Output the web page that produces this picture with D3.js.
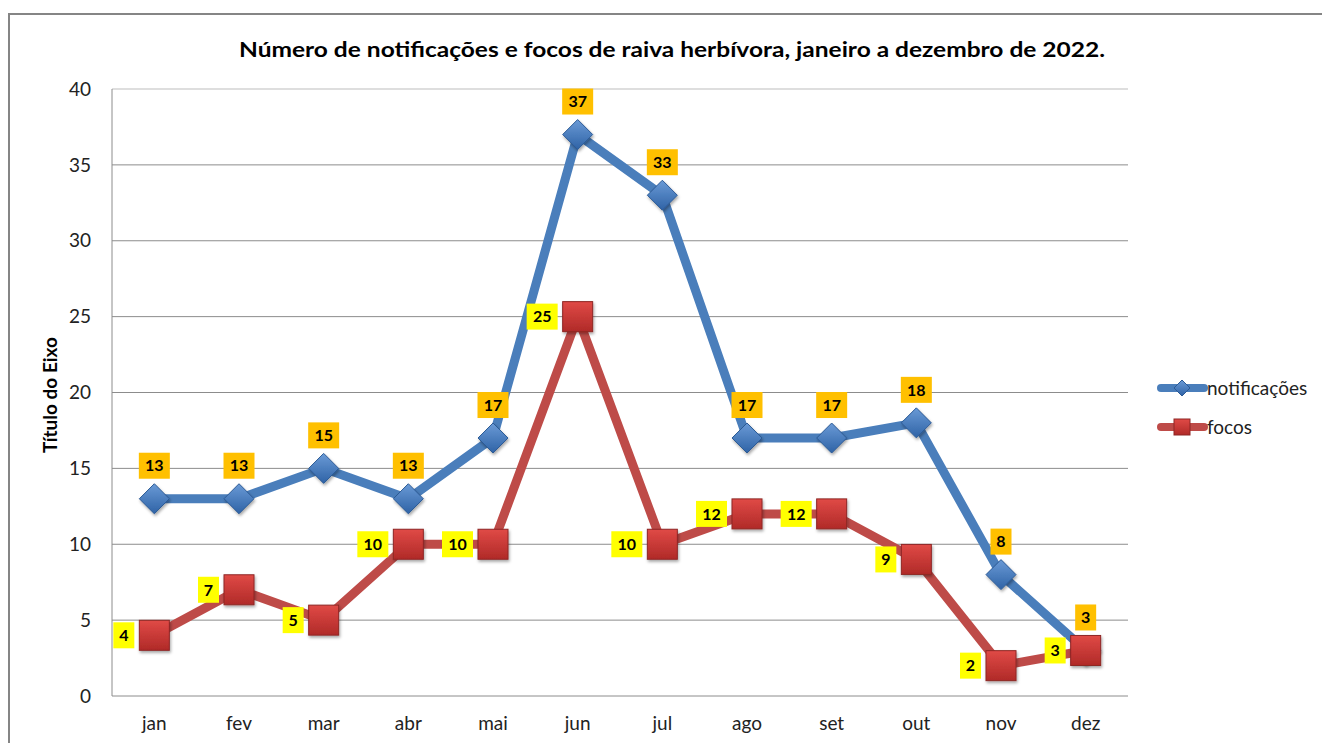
<!DOCTYPE html>
<html>
<head>
<meta charset="utf-8">
<script src="https://cdn.jsdelivr.net/npm/d3@7"></script>
<style>
  body { margin: 0; background: #fff; }
  text { font-family: Lato, "Open Sans", sans-serif; }
</style>
</head>
<body>
<svg id="chart"></svg>
<script>
const months = ["jan", "fev", "mar", "abr", "mai", "jun", "jul", "ago", "set", "out", "nov", "dez"];
const notificacoes = [13, 13, 15, 13, 17, 37, 33, 17, 17, 18, 8, 3];
const focos = [4, 7, 5, 10, 10, 25, 10, 12, 12, 9, 2, 3];
const yTicks = [0, 5, 10, 15, 20, 25, 30, 35, 40];

const width = 1322, height = 743;
const margin = { top: 89, left: 112, right: 194, bottom: 47 };

const svg = d3.select("#chart").attr("width", width).attr("height", height);
const defs = svg.append("defs");

// marker shading
const gBlue = defs.append("linearGradient").attr("id", "gBlue").attr("x1", 0).attr("y1", 0).attr("x2", 0).attr("y2", 1);
gBlue.append("stop").attr("offset", "0%").attr("stop-color", "#6a9ad6");
gBlue.append("stop").attr("offset", "100%").attr("stop-color", "#2f63a6");
const gRed = defs.append("linearGradient").attr("id", "gRed").attr("x1", 0).attr("y1", 0).attr("x2", 0).attr("y2", 1);
gRed.append("stop").attr("offset", "0%").attr("stop-color", "#e04a46");
gRed.append("stop").attr("offset", "100%").attr("stop-color", "#b02a28");
const shadow = defs.append("filter").attr("id", "shadow").attr("x", "-30%").attr("y", "-30%").attr("width", "160%").attr("height", "160%");
shadow.append("feDropShadow").attr("dx", 1).attr("dy", 2).attr("stdDeviation", 1.5).attr("flood-color", "#000").attr("flood-opacity", 0.35);

// outer frame
svg.append("path")
  .attr("d", `M9,${height} L9,14 L${width},14`)
  .attr("fill", "none").attr("stroke", "#858585").attr("stroke-width", 2);

const x = d3.scaleBand().domain(months).range([margin.left, width - margin.right]);
const y = d3.scaleLinear().domain([0, 40]).range([height - margin.bottom, margin.top]);

// gridlines
svg.append("g").selectAll("line").data(yTicks).join("line")
  .attr("x1", margin.left).attr("x2", width - margin.right)
  .attr("y1", d => y(d)).attr("y2", d => y(d))
  .attr("stroke", d => d === 40 ? "#bdbdbd" : "#8c8c8c").attr("stroke-width", 1);

svg.append("line")
  .attr("x1", margin.left).attr("x2", margin.left)
  .attr("y1", y(40)).attr("y2", y(0))
  .attr("stroke", "#8c8c8c");

// y axis labels
svg.append("g").selectAll("text").data(yTicks).join("text")
  .attr("x", 91).attr("y", d => y(d)).attr("dy", "0.35em")
  .attr("text-anchor", "end").attr("font-size", 19).attr("fill", "#222")
  .text(d => d);

// x axis labels
svg.append("g").selectAll("text").data(months).join("text")
  .attr("x", d => x(d) + x.bandwidth() / 2).attr("y", 730)
  .attr("text-anchor", "middle").attr("font-size", 19).attr("fill", "#222")
  .text(d => d);

// titles
svg.append("text")
  .attr("x", 672).attr("y", 57).attr("text-anchor", "middle")
  .attr("font-size", 21).attr("font-weight", "bold").attr("fill", "#000")
  .attr("textLength", 866).attr("lengthAdjust", "spacingAndGlyphs")
  .text("Número de notificações e focos de raiva herbívora, janeiro a dezembro de 2022.");

svg.append("text")
  .attr("transform", "translate(57,395) rotate(-90)")
  .attr("text-anchor", "middle").attr("font-size", 19).attr("font-weight", "bold").attr("fill", "#000")
  .text("Título do Eixo");

const cx = (d, i) => x(months[i]) + x.bandwidth() / 2;
const line = d3.line().x((d, i) => cx(d, i)).y(d => y(d));

svg.append("path").datum(notificacoes)
  .attr("d", line).attr("fill", "none")
  .attr("stroke", "#4a7ebb").attr("stroke-width", 9).attr("stroke-linejoin", "round");
svg.append("path").datum(focos)
  .attr("d", line).attr("fill", "none")
  .attr("stroke", "#be4b48").attr("stroke-width", 9).attr("stroke-linejoin", "round");

// markers
const diamond = s => `M0,${-s} L${s},0 L0,${s} L${-s},0 Z`;
svg.append("g").selectAll("path").data(notificacoes).join("path")
  .attr("transform", (d, i) => `translate(${cx(d, i)},${y(d)})`)
  .attr("d", diamond(15))
  .attr("fill", "url(#gBlue)").attr("stroke", "#2c5a95").attr("stroke-width", 1)
  .attr("filter", "url(#shadow)");

svg.append("g").selectAll("rect").data(focos).join("rect")
  .attr("x", (d, i) => cx(d, i) - 15).attr("y", d => y(d) - 15)
  .attr("width", 30).attr("height", 30)
  .attr("fill", "url(#gRed)").attr("stroke", "#8e2624").attr("stroke-width", 1)
  .attr("filter", "url(#shadow)");

// data labels
function addLabel(g, tx, ty, txt, bg) {
  const w = String(txt).length > 1 ? 31 : 21;
  g.append("rect").attr("x", tx - w / 2).attr("y", ty - 13).attr("width", w).attr("height", 26).attr("fill", bg);
  g.append("text").attr("x", tx).attr("y", ty).attr("dy", "0.36em")
    .attr("text-anchor", "middle").attr("font-size", 16).attr("font-weight", "bold").attr("fill", "#000")
    .text(txt);
}
const labels = svg.append("g");
notificacoes.forEach((d, i) => addLabel(labels, cx(d, i), y(d) - 33, d, "#ffc000"));
focos.forEach((d, i) => {
  const w = String(d).length > 1 ? 31 : 21;
  addLabel(labels, cx(d, i) - 20 - w / 2, y(d), d, "#ffff00");
});

// legend
const legend = svg.append("g");
const series = [
  { name: "notificações", color: "#4a7ebb", shape: "diamond", ly: 388 },
  { name: "focos", color: "#be4b48", shape: "square", ly: 427 }
];
series.forEach(s => {
  legend.append("line").attr("x1", 1161).attr("x2", 1204).attr("y1", s.ly).attr("y2", s.ly)
    .attr("stroke", s.color).attr("stroke-width", 8).attr("stroke-linecap", "round");
  if (s.shape === "diamond") {
    legend.append("path").attr("transform", `translate(1182,${s.ly})`).attr("d", diamond(8))
      .attr("fill", "url(#gBlue)").attr("stroke", "#2c5a95");
  } else {
    legend.append("rect").attr("x", 1174).attr("y", s.ly - 8).attr("width", 16).attr("height", 16)
      .attr("fill", "url(#gRed)").attr("stroke", "#8e2624");
  }
  legend.append("text").attr("x", 1207).attr("y", s.ly).attr("dy", "0.35em")
    .attr("font-size", 19).attr("fill", "#222").text(s.name);
});
</script>
</body>
</html>
